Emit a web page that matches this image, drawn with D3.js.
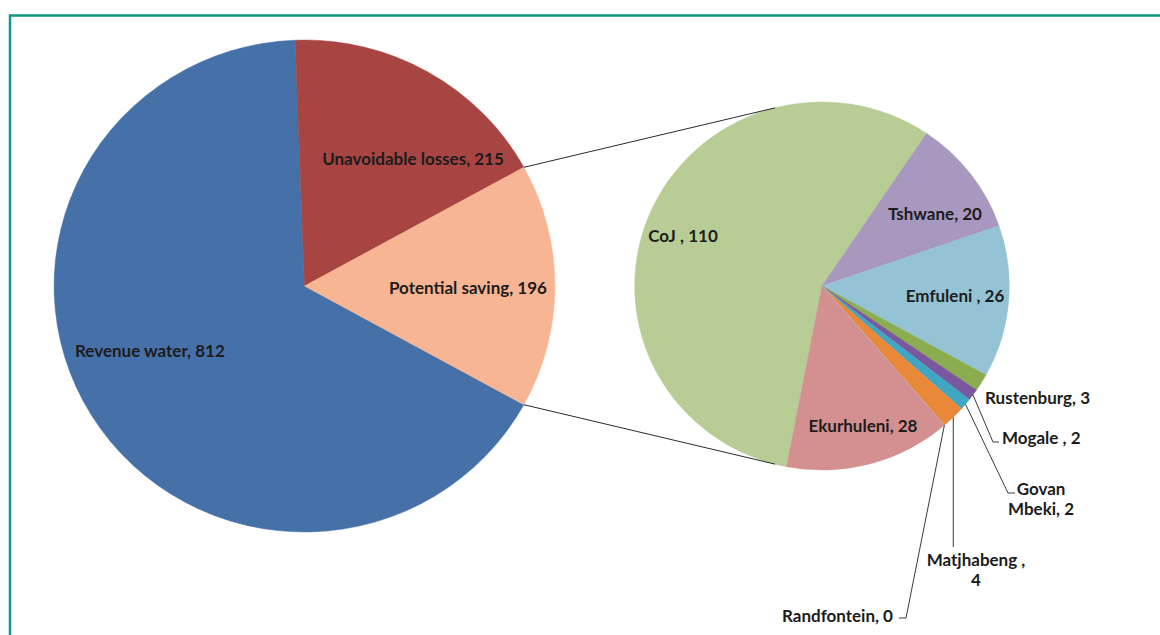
<!DOCTYPE html>
<html>
<head>
<meta charset="utf-8">
<script src="https://cdn.jsdelivr.net/npm/d3@7/dist/d3.min.js"></script>
<style>
  html, body { margin: 0; padding: 0; background: #ffffff; }
  svg { display: block; }
  text { font-family: Lato, "Open Sans", sans-serif; font-weight: 700; fill: #1c1c1c; }
</style>
</head>
<body>
<svg id="chart" width="1160" height="635"></svg>
<script>
// Water balance: main pie, with the "Potential saving" slice broken out by municipality
const mainCategories = ["Revenue water", "Unavoidable losses", "Potential saving"];
const mainValues = [812, 215, 196];
const mainColors = ["#4671a8", "#a84442", "#f8b593"];

const subCategories = ["CoJ ", "Tshwane", "Emfuleni ", "Rustenburg", "Mogale ", "Govan Mbeki", "Matjhabeng ", "Randfontein", "Ekurhuleni"];
const subValues = [110, 20, 26, 3, 2, 2, 4, 0, 28];
const subColors = ["#b7cd95", "#a898c0", "#93c3d5", "#8cad4f", "#7a58a0", "#3fa6c4", "#ea883a", "#b9c3d3", "#d49090"];

const svg = d3.select("#chart");
const W = 1160, H = 635;
const deg = Math.PI / 180;

// frame
svg.append("path")
  .attr("d", `M10,${H} L10,15.5 L${W},15.5`)
  .attr("fill", "none")
  .attr("stroke", "#0e9985")
  .attr("stroke-width", 2.5);

const sx = 1.018;                    // slight horizontal stretch of the pies
const main = { cx: 304.5, cy: 286, r: 246 };
const sub = { cx: 822, cy: 286, r: 184 };

// main pie: the split slice is centred on 3 o'clock
const splitIdx = 2;
const mainTotal = d3.sum(mainValues);
const before = d3.sum(mainValues.slice(0, splitIdx)) + mainValues[splitIdx] / 2;
const mainStart = Math.PI / 2 - before / mainTotal * 2 * Math.PI;

const mainPie = d3.pie().sort(null).value(d => d.v)
  .startAngle(mainStart).endAngle(mainStart + 2 * Math.PI);
const mainData = mainPie(mainCategories.map((c, i) => ({ c, v: mainValues[i], col: mainColors[i] })));
const mainArc = d3.arc().innerRadius(0).outerRadius(main.r);

const gMain = svg.append("g").attr("transform", `translate(${main.cx},${main.cy}) scale(${sx},1)`);
gMain.selectAll("path").data(mainData).join("path")
  .attr("d", mainArc)
  .attr("fill", d => d.data.col)
  .attr("stroke", d => d.data.col)
  .attr("stroke-width", 0.5);

// secondary pie
const subStart = 190.9 * deg;
const subPie = d3.pie().sort(null).value(d => d.v)
  .startAngle(subStart).endAngle(subStart + 2 * Math.PI);
const subData = subPie(subCategories.map((c, i) => ({ c, v: subValues[i], col: subColors[i] })));
const subArc = d3.arc().innerRadius(0).outerRadius(sub.r);

const gSub = svg.append("g").attr("transform", `translate(${sub.cx},${sub.cy}) scale(${sx},1)`);
gSub.selectAll("path").data(subData).join("path")
  .attr("d", subArc)
  .attr("fill", d => d.data.col)
  .attr("stroke", d => d.data.col)
  .attr("stroke-width", d => d.data.v === 0 ? 1.2 : 0.5);

// point on a pie's rim at angle a (clockwise from 12 o'clock)
function rim(p, a, rr) {
  const r = rr === undefined ? p.r : rr;
  return [p.cx + sx * r * Math.sin(a), p.cy - r * Math.cos(a)];
}

// connector lines from the split slice to the secondary pie
const split = mainData[splitIdx];
const linkAngle = 14.5 * deg;
[[rim(main, split.startAngle), rim(sub, -linkAngle)],
 [rim(main, split.endAngle), rim(sub, Math.PI + linkAngle)]].forEach(([a, b]) => {
  svg.append("line")
    .attr("x1", a[0]).attr("y1", a[1]).attr("x2", b[0]).attr("y2", b[1])
    .attr("stroke", "#2a2a2a").attr("stroke-width", 1);
});

const fontSize = 17;

// labels inside the main pie, offsets from the pie centre
const mainLabelPos = {
  "Revenue water": { at: [-229.5, 64], anchor: "start" },
  "Unavoidable losses": { at: [108.5, -128], anchor: "middle" },
  "Potential saving": { at: [84.5, 1], anchor: "start" }
};
mainData.forEach(d => {
  const L = mainLabelPos[d.data.c];
  svg.append("text")
    .attr("x", main.cx + L.at[0]).attr("y", main.cy + L.at[1])
    .attr("text-anchor", L.anchor).attr("dominant-baseline", "central")
    .attr("font-size", fontSize)
    .text(`${d.data.c}, ${d.data.v}`);
});

// labels for the secondary pie: inside ones centred, outside ones with leader lines
const subLabelPos = {
  "CoJ ": { at: [-139, -51], anchor: "middle" },
  "Tshwane": { at: [113, -73], anchor: "middle" },
  "Emfuleni ": { at: [133, 9], anchor: "middle" },
  "Ekurhuleni": { at: [41, 139], anchor: "middle" },
  "Rustenburg": { at: [163, 111], anchor: "start" },
  "Mogale ": { at: [180, 151], anchor: "start", leader: [[171, 156], [177, 156]] },
  "Govan Mbeki": { at: [219, 212], anchor: "middle", lines: ["Govan", "Mbeki, 2"], leader: [[186, 207], [193, 207]] },
  "Matjhabeng ": { at: [154, 283], anchor: "middle", lines: ["Matjhabeng ,", "4"], leader: [[133, 261]], vertical: true },
  "Randfontein": { at: [71, 329], anchor: "end", leader: [[84, 332], [77, 332]] }
};
const lineH = 20.5;
subData.forEach(d => {
  const L = subLabelPos[d.data.c];
  const x = sub.cx + L.at[0], y = sub.cy + L.at[1];
  const t = svg.append("text")
    .attr("x", x).attr("y", y)
    .attr("text-anchor", L.anchor)
    .attr("dominant-baseline", "central")
    .attr("font-size", fontSize);
  if (L.lines) {
    const n = L.lines.length;
    L.lines.forEach((s, i) => {
      t.append("tspan").attr("x", x).attr("y", y + (i - (n - 1) / 2) * lineH).text(s);
    });
  } else {
    t.text(`${d.data.c}, ${d.data.v}`);
  }
  if (L.leader) {
    const mid = (d.startAngle + d.endAngle) / 2;
    const p0 = rim(sub, mid);
    let pts = [p0].concat(L.leader.map(q => [sub.cx + q[0], sub.cy + q[1]]));
    if (L.vertical) pts = [p0, [p0[0], sub.cy + L.leader[0][1]]];
    svg.append("path")
      .attr("d", d3.line()(pts))
      .attr("fill", "none")
      .attr("stroke", "#3a3a3a")
      .attr("stroke-width", 1);
  }
});
</script>
</body>
</html>
